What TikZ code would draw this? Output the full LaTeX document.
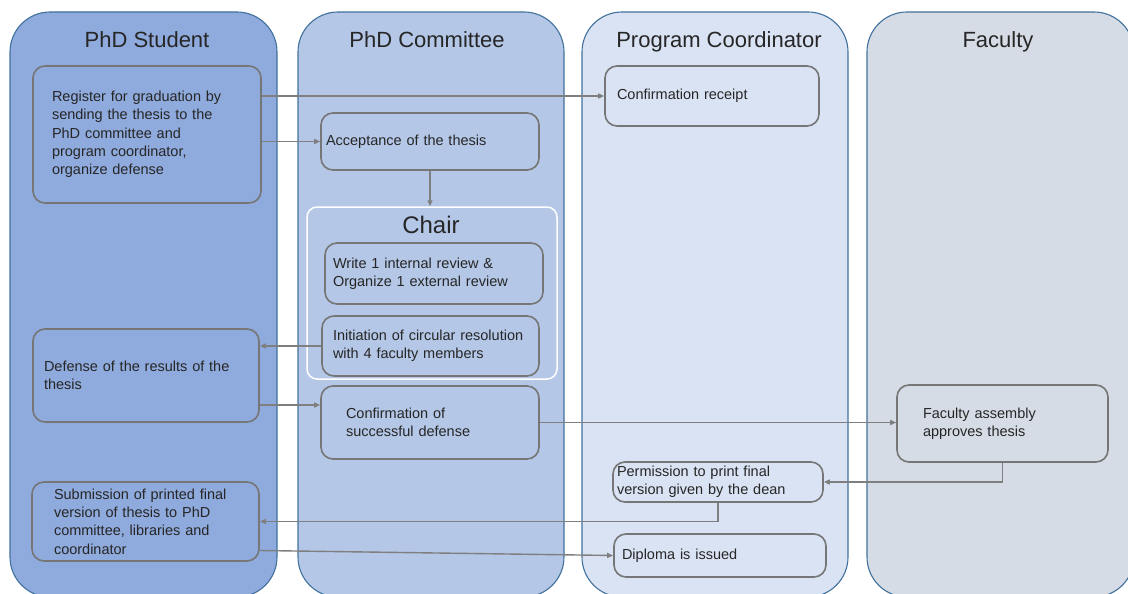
\documentclass[tikz,border=0pt]{standalone}
\usepackage{fontspec}
\setmainfont{Liberation Sans}
\usepackage{tikz}
\usetikzlibrary{arrows.meta}

\definecolor{studentblue}{HTML}{8FAADC}
\definecolor{committeeblue}{HTML}{B4C7E7}
\definecolor{coordblue}{HTML}{DAE3F3}
\definecolor{facultygrey}{HTML}{D6DCE5}
\definecolor{laneline}{HTML}{41719C}
\definecolor{boxline}{HTML}{767676}
\definecolor{flowline}{HTML}{7F7F7F}
\definecolor{txt}{HTML}{262626}

\tikzset{
  lane/.style={draw=laneline, line width=1.1pt, rounded corners=40pt},
  lanetitle/.style={anchor=base, text=txt, font=\fontsize{22}{26}\selectfont},
  task/.style={draw=boxline, line width=1.6pt, rounded corners=12pt, align=left,
    text=txt, font=\fontsize{14.5}{18.3}\selectfont, inner ysep=2pt},
  flow/.style={draw=flowline, line width=1.4pt, -{Triangle[length=6pt,width=5pt]}}
}

\begin{document}
\begin{tikzpicture}[x=1pt,y=-1pt]
  \useasboundingbox (0,0) rectangle (1128,594);
  \clip (0,0) rectangle (1128,594);
  % swimlanes
  \draw[lane, fill=studentblue] (10,12) rectangle (277,597);
  \draw[lane, fill=committeeblue] (298,12) rectangle (564,597);
  \draw[lane, fill=coordblue] (582,12) rectangle (848,597);
  \draw[lane, fill=facultygrey] (867,12) rectangle (1134,597);
  \node[lanetitle] (student) at (147,48) {PhD Student};
  \node[lanetitle] (committee) at (427,48) {PhD Committee};
  \node[lanetitle] (coordinator) at (719,48) {Program Coordinator};
  \node[lanetitle] (faculty) at (998,48) {Faculty};
  % chair group
  \node[draw=white, line width=1.5pt, rounded corners=10pt, minimum width=250pt,
    minimum height=172pt] (chair) at (432,293) {};
  \node[anchor=base, text=txt, font=\fontsize{24}{28}\selectfont] (chairtitle) at (431,233) {Chair};
  % tasks
  \node[task, text width=190pt, inner xsep=19pt, minimum height=137pt] (register) at (147,134.5)
    {Register for graduation by\\ sending the thesis to the\\ PhD committee and\\ program coordinator,\\ organize defense};
  \node[task, text width=190pt, inner xsep=12pt, minimum height=60pt] (receipt) at (712,96)
    {Confirmation receipt};
  \node[task, text width=208pt, inner xsep=5pt, minimum height=57pt] (accept) at (430,141.5)
    {Acceptance of the thesis};
  \node[task, text width=202pt, inner xsep=8pt, minimum height=61pt] (review) at (434,273.5)
    {Write 1 internal review \&\\ Organize 1 external review};
  \node[task, text width=195pt, inner xsep=11pt, minimum height=60pt] (initiation) at (430.5,346)
    {Initiation of circular resolution\\ with 4 faculty members};
  \node[task, text width=204pt, inner xsep=11pt, minimum height=93pt] (defense) at (146,375.5)
    {Defense of the results of the\\ thesis};
  \node[task, text width=168pt, inner xsep=25pt, minimum height=73pt] (confirm) at (430,422.5)
    {Confirmation of\\ successful defense};
  \node[task, text width=159pt, inner xsep=26pt, minimum height=77pt] (assembly) at (1002.5,423.5)
    {Faculty assembly\\ approves thesis};
  \node[task, text width=202pt, inner xsep=4pt, minimum height=40pt] (permission) at (718,482)
    {Permission to print final\\ version given by the dean};
  \node[task, text width=183pt, inner xsep=22pt, minimum height=79pt] (submission) at (145.5,521.5)
    {Submission of printed final\\ version of thesis to PhD\\ committee, libraries and\\ coordinator};
  \node[task, text width=196pt, inner xsep=8pt, minimum height=43pt] (diploma) at (720,555.5)
    {Diploma is issued};
  % connectors
  \draw[flow] (register.east |- receipt.west) -- (receipt.west);
  \draw[flow] (register.east |- accept.west) -- (accept.west);
  \draw[flow] (accept.south) -- (accept.south |- chair.north);
  \draw[flow] (initiation.west) -- (initiation.west -| defense.east);
  \draw[flow] ([yshift=-29.5pt]defense.east) -- ([yshift=-29.5pt]defense.east -| confirm.west);
  \draw[flow] (confirm.east) -- (confirm.east -| assembly.west);
  \draw[flow] (assembly.south) |- (permission.east);
  \draw[flow] (permission.south) |- (submission.east);
  \draw[flow] ([yshift=-29pt]submission.east) -- (diploma.west);
\end{tikzpicture}
\end{document}
